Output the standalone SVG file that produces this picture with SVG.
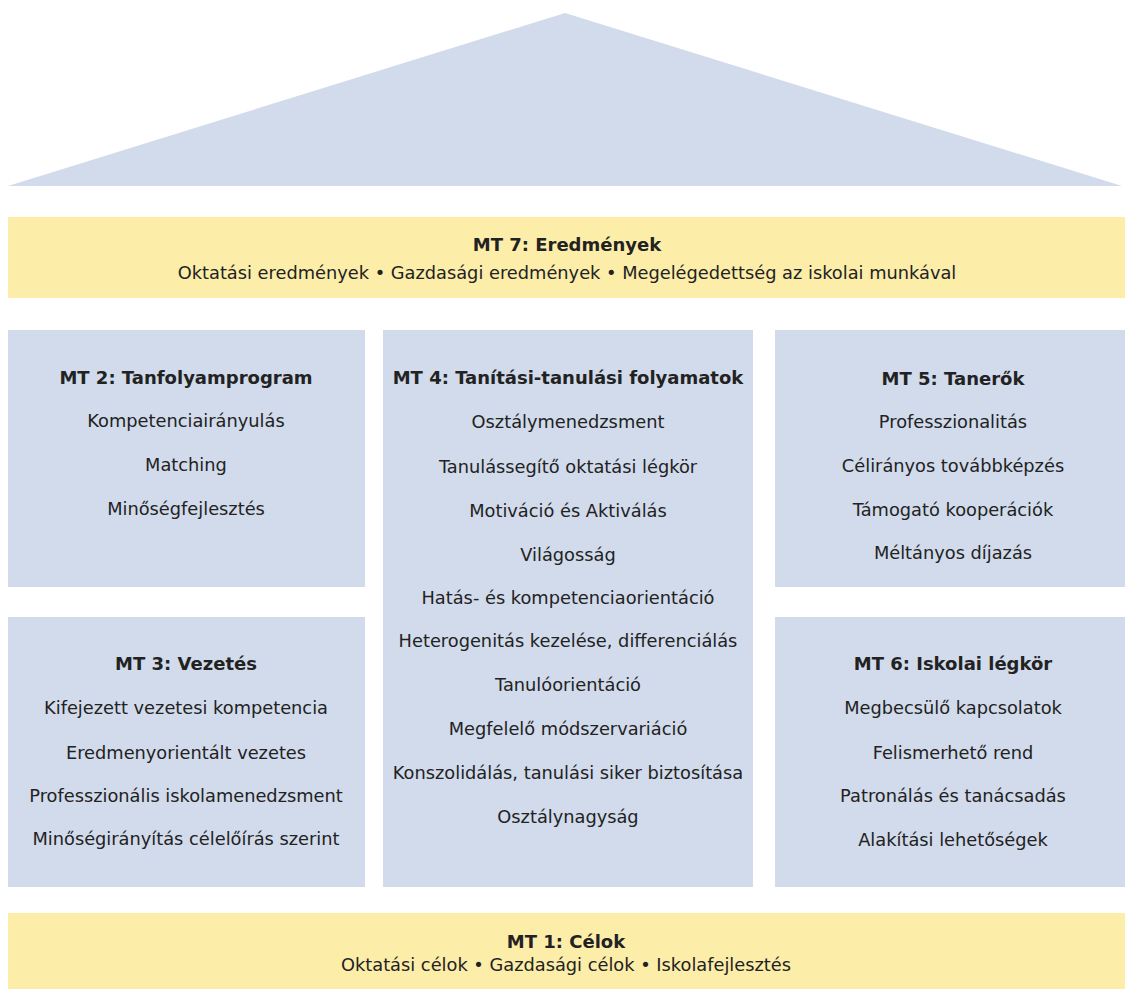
<svg xmlns="http://www.w3.org/2000/svg" width="1125" height="989" viewBox="0 0 1125 989">
<style>
.blue{fill:#D1DBEB}
.yel{fill:#FCEDA9}
text{font-family:"DejaVu Sans",Verdana,sans-serif;font-size:17.8px;fill:#222;text-anchor:middle;dominant-baseline:central}
.t{font-weight:bold;font-size:18px}
</style>
<rect width="1125" height="989" fill="#fff"/>
<g id="roof"><polygon class="blue" points="8,186 565,13 1122,186"/></g>
<g id="mt7">
<rect class="yel" x="8" y="217" width="1117" height="81"/>
<text class="t" x="567" y="244">MT 7: Eredmények</text>
<text x="567" y="272">Oktatási eredmények • Gazdasági eredmények • Megelégedettség az iskolai munkával</text>
</g>
<g id="mt2">
<rect class="blue" x="8" y="330" width="357" height="257"/>
<text class="t" x="186" y="377">MT 2: Tanfolyamprogram</text>
<text x="186" y="420">Kompetenciairányulás</text>
<text x="186" y="464">Matching</text>
<text x="186" y="508">Minőségfejlesztés</text>
</g>
<g id="mt3">
<rect class="blue" x="8" y="617" width="357" height="270"/>
<text class="t" x="186" y="663">MT 3: Vezetés</text>
<text x="186" y="707">Kifejezett vezetesi kompetencia</text>
<text x="186" y="752">Eredmenyorientált vezetes</text>
<text x="186" y="795">Professzionális iskolamenedzsment</text>
<text x="186" y="838">Minőségirányítás célelőírás szerint</text>
</g>
<g id="mt4">
<rect class="blue" x="383" y="330" width="370" height="557"/>
<text class="t" x="568" y="377">MT 4: Tanítási-tanulási folyamatok</text>
<text x="568" y="421">Osztálymenedzsment</text>
<text x="568" y="466">Tanulássegítő oktatási légkör</text>
<text x="568" y="510">Motiváció és Aktiválás</text>
<text x="568" y="554">Világosság</text>
<text x="568" y="597">Hatás- és kompetenciaorientáció</text>
<text x="568" y="640">Heterogenitás kezelése, differenciálás</text>
<text x="568" y="684">Tanulóorientáció</text>
<text x="568" y="728">Megfelelő módszervariáció</text>
<text x="568" y="772">Konszolidálás, tanulási siker biztosítása</text>
<text x="568" y="816">Osztálynagyság</text>
</g>
<g id="mt5">
<rect class="blue" x="775" y="330" width="362" height="257"/>
<text class="t" x="953" y="378">MT 5: Tanerők</text>
<text x="953" y="421">Professzionalitás</text>
<text x="953" y="465">Célirányos továbbképzés</text>
<text x="953" y="509">Támogató kooperációk</text>
<text x="953" y="552">Méltányos díjazás</text>
</g>
<g id="mt6">
<rect class="blue" x="775" y="617" width="362" height="270"/>
<text class="t" x="953" y="663">MT 6: Iskolai légkör</text>
<text x="953" y="707">Megbecsülő kapcsolatok</text>
<text x="953" y="752">Felismerhető rend</text>
<text x="953" y="795">Patronálás és tanácsadás</text>
<text x="953" y="839">Alakítási lehetőségek</text>
</g>
<g id="mt1">
<rect class="yel" x="8" y="913" width="1117" height="76"/>
<text class="t" x="566" y="941">MT 1: Célok</text>
<text x="566" y="964">Oktatási célok • Gazdasági célok • Iskolafejlesztés</text>
</g>
<g id="connectors"/>
</svg>
